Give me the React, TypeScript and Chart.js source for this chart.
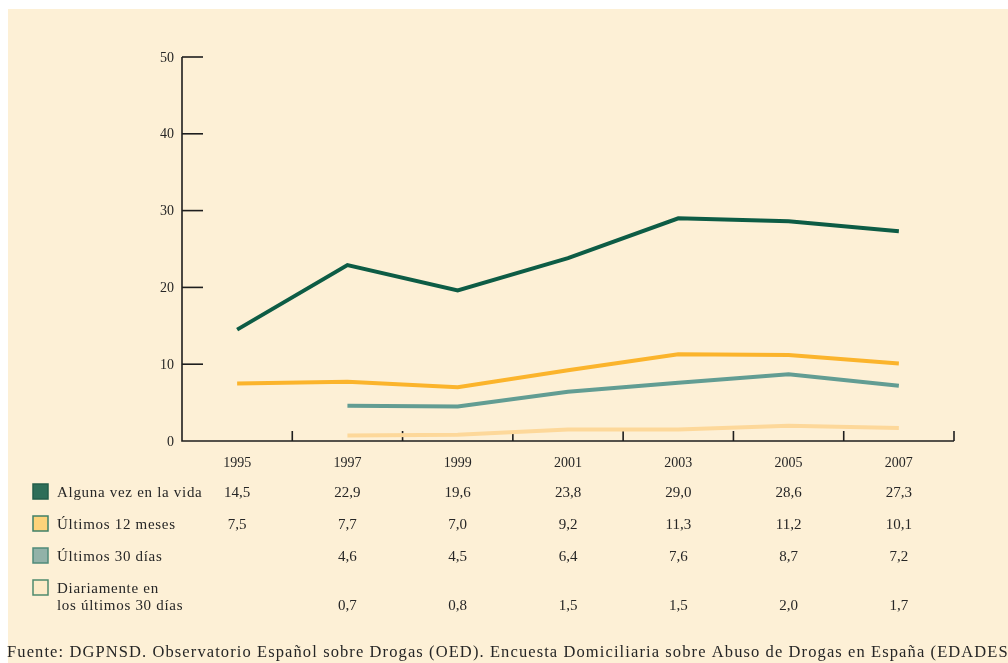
import { useEffect, useRef } from "react";
import { Chart, registerables } from "chart.js";
Chart.register(...registerables);

const years = ["1995", "1997", "1999", "2001", "2003", "2005", "2007"];
const alguna = [14.5, 22.9, 19.6, 23.8, 29.0, 28.6, 27.3];
const ultimos12 = [7.5, 7.7, 7.0, 9.2, 11.3, 11.2, 10.1];
const ultimos30: (number | null)[] = [null, 4.6, 4.5, 6.4, 7.6, 8.7, 7.2];
const diario: (number | null)[] = [null, 0.7, 0.8, 1.5, 1.5, 2.0, 1.7];
const yTicks = [0, 10, 20, 30, 40, 50];
const seriesLabels = [
  ["Alguna vez en la vida"],
  ["Últimos 12 meses"],
  ["Últimos 30 días"],
  ["Diariamente en", "los últimos 30 días"],
];
const source =
  "Fuente: DGPNSD. Observatorio Español sobre Drogas (OED). Encuesta Domiciliaria sobre Abuso de Drogas en España (EDADES)";

const lineColors = ["#0d5c45", "#fbb42c", "#629d93", "#fdd89a"];
const boxFills = ["#2e6e58", "#fdd37a", "#92b2a8", "#fdebc8"];
const boxBorders = ["#235e4a", "#3f8068", "#4f8a7a", "#4f8a6e"];
const BEIGE = "#fdf0d6";
const INK = "#262626";
const FONT = "'Liberation Serif', 'DejaVu Serif', serif";

const fmt = (v: number | null) => (v == null ? "" : v.toFixed(1).replace(".", ","));

export default function App() {
  const ref = useRef<HTMLCanvasElement | null>(null);
  useEffect(() => {
    document.body.style.margin = "0";
    document.body.style.overflow = "hidden";
    const canvas = ref.current!;
    const all = [alguna, ultimos12, ultimos30, diario];

    const deco = {
      id: "deco",
      beforeDraw(chart: any) {
        const { ctx, width, height } = chart;
        ctx.save();
        ctx.fillStyle = "#ffffff";
        ctx.fillRect(0, 0, width, height);
        ctx.fillStyle = BEIGE;
        ctx.fillRect(8, 9, width - 8, height - 9);
        ctx.restore();
      },
      beforeDatasetsDraw(chart: any) {
        const { ctx, chartArea } = chart;
        const x = chart.scales.x;
        const y = chart.scales.y;
        const left = chartArea.left;
        const right = chartArea.right;
        const y0 = y.getPixelForValue(0);
        ctx.save();
        ctx.strokeStyle = "#1e1e1e";
        ctx.lineWidth = 1.6;
        ctx.beginPath();
        ctx.moveTo(left, y.getPixelForValue(50));
        ctx.lineTo(left, y0);
        ctx.lineTo(right, y0);
        ctx.stroke();
        ctx.fillStyle = INK;
        ctx.font = `14px ${FONT}`;
        ctx.textAlign = "right";
        ctx.textBaseline = "middle";
        yTicks.forEach((t) => {
          const py = y.getPixelForValue(t);
          if (t !== 0) {
            ctx.beginPath();
            ctx.moveTo(left, py);
            ctx.lineTo(left + 21, py);
            ctx.stroke();
          }
          ctx.fillText(String(t), left - 8, py + 1);
        });
        const n = years.length;
        for (let i = 0; i < n; i++) {
          const px = i < n - 1
            ? (x.getPixelForValue(i) + x.getPixelForValue(i + 1)) / 2
            : right;
          ctx.beginPath();
          ctx.moveTo(px, y0);
          ctx.lineTo(px, y0 - 10);
          ctx.stroke();
        }
        ctx.restore();
      },
      afterDraw(chart: any) {
        const { ctx } = chart;
        const x = chart.scales.x;
        ctx.save();
        ctx.fillStyle = INK;
        ctx.font = `14px ${FONT}`;
        ctx.textAlign = "center";
        ctx.textBaseline = "middle";
        years.forEach((yr, i) => ctx.fillText(yr, x.getPixelForValue(i), 463));
        const rowY = [492, 524, 556, 588];
        const valY = [492, 524, 556, 605];
        all.forEach((s, r) => {
          ctx.fillStyle = boxFills[r];
          ctx.fillRect(33, rowY[r] - 8, 15, 15);
          ctx.strokeStyle = boxBorders[r];
          ctx.lineWidth = 1.5;
          ctx.strokeRect(33, rowY[r] - 8, 15, 15);
          ctx.fillStyle = INK;
          ctx.font = `15px ${FONT}`;
          ctx.textAlign = "left";
          (ctx as any).letterSpacing = "0.7px";
          seriesLabels[r].forEach((line, k) => ctx.fillText(line, 57, rowY[r] + k * 17 + 1));
          (ctx as any).letterSpacing = "0px";
          ctx.textAlign = "center";
          s.forEach((v, i) => {
            if (v != null) ctx.fillText(fmt(v), x.getPixelForValue(i), valY[r] + 1);
          });
        });
        ctx.textAlign = "left";
        ctx.font = `16.5px ${FONT}`;
        (ctx as any).letterSpacing = "1.1px";
        ctx.fillText(source, 7, 653);
        (ctx as any).letterSpacing = "0px";
        ctx.restore();
      },
    };

    const chart = new Chart(canvas, {
      type: "line",
      data: {
        labels: years,
        datasets: [
          { label: seriesLabels[3].join(" "), data: diario },
          { label: seriesLabels[2][0], data: ultimos30 },
          { label: seriesLabels[1][0], data: ultimos12 },
          { label: seriesLabels[0][0], data: alguna },
        ].map((d, i) => ({
          ...d,
          borderColor: lineColors[3 - i],
          borderWidth: 4,
          pointRadius: 0,
          tension: 0,
          fill: false,
          spanGaps: false,
        })),
      },
      options: {
        responsive: false,
        animation: false,
        events: [],
        layout: { padding: { left: 182, right: 54, top: 57, bottom: 222 } },
        plugins: { legend: { display: false }, tooltip: { enabled: false } },
        scales: {
          x: { display: false, offset: true },
          y: { display: false, min: 0, max: 50 },
        },
      },
      plugins: [deco],
    });
    return () => chart.destroy();
  }, []);
  return (
    <div style={{ width: 1008, height: 663 }}>
      <canvas ref={ref} width={1008} height={663} style={{ display: "block" }} />
    </div>
  );
}
